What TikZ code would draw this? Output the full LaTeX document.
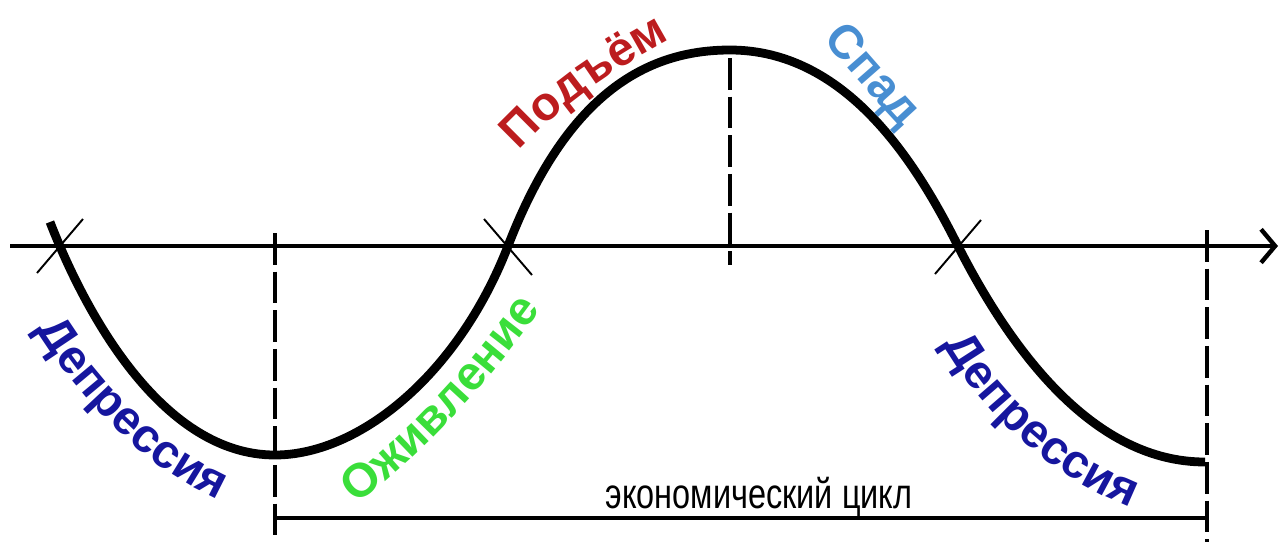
\documentclass[tikz,border=0pt]{standalone}
\usepackage{fontspec}
\setmainfont{Liberation Sans}
\usepackage{graphicx}
\usetikzlibrary{arrows.meta,decorations.text}
\definecolor{depblue}{RGB}{22,22,158}
\definecolor{risered}{RGB}{188,28,30}
\definecolor{fallblue}{RGB}{72,142,210}
\definecolor{revgreen}{RGB}{58,222,58}
\newcommand{\phasefont}{\fontsize{27}{30}\selectfont\bfseries}

\begin{document}
\begin{tikzpicture}[
  x=0.02cm, y=-0.02cm,
  axis/.style={line width=2.5pt, -{Straight Barb[length=8pt, width=19pt]}},
  wave/.style={line width=5pt},
  guide/.style={line width=2pt, dash pattern=on 18pt off 4pt},
  cross/.style={line width=1.1pt},
  span/.style={line width=2pt},
  cyclabel/.style={anchor=base, inner sep=0pt, font=\fontsize{24}{26}\selectfont},
  phase/.style 2 args={decorate, decoration={text along path, text align=center,
    text color=#1, text={|\phasefont|#2}}}
]
\useasboundingbox (0,0) rectangle (1279,542);

\coordinate (s) at (50,222);
\coordinate (c1) at (60,246);
\coordinate (m1) at (275,455);
\coordinate (c2) at (508,246);
\coordinate (top) at (730,50);
\coordinate (c3) at (958,246);
\coordinate (m2) at (1205,462);

\draw[axis] (10,246) -- (1278,246);

\draw[guide] (275,233) -- (275,542);
\draw[guide] (730,58) -- (730,265);
\draw[guide] (1207,230) -- (1207,542);
\draw[span] (275,518) -- (1207,518);

\draw[wave] (s) .. controls (88,320) and (165,455) .. (m1)
  .. controls (359,455) and (458,375) .. (c2)
  .. controls (568,90) and (650,50) .. (top)
  .. controls (845,50) and (915,160) .. (c3)
  .. controls (1013,354) and (1095,462) .. (m2);

\draw[cross] (c1) ++(23,-27) -- ++(-46,54);
\draw[cross] (c2) ++(-24,-27) -- ++(48,56);
\draw[cross] (c3) ++(23,-26) -- ++(-46,54);

\path[phase={depblue}{Депрессия}] (16,296) .. controls (62,380) and (140,478) .. (255,514);
\path[phase={revgreen}{Оживление}] (331,523) .. controls (415,466) and (500,372) .. (559,284);
\path[phase={risered}{Подъём}] (501,172) .. controls (551,110) and (617,66) .. (695,26);
\path[phase={fallblue}{Спад}] (808,22) .. controls (845,66) and (878,104) .. (918,146);
\path[phase={depblue}{Депрессия}] (925,311) .. controls (968,400) and (1045,485) .. (1166,520);

\node[cyclabel] (cyc) at (759,508) {\scalebox{0.77}[1]{экономический цикл}};
\end{tikzpicture}
\end{document}
